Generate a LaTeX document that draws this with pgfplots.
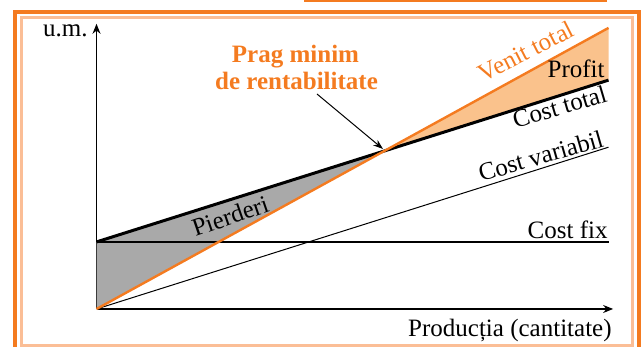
\documentclass[border=0pt]{standalone}
\usepackage{pgfplots}
\pgfplotsset{compat=1.18}
\usepackage{fontspec}
\setmainfont{Liberation Serif}
\usetikzlibrary{arrows.meta}
\definecolor{portocaliu}{HTML}{F47B20}
\definecolor{profitfill}{HTML}{FAC28C}
\definecolor{ramadeschisa}{HTML}{FBBE96}
\definecolor{gri}{HTML}{A9A9A9}

\begin{document}
\begin{tikzpicture}
\path[use as bounding box] (0,0) rectangle (321.5pt,173.5pt);
% rama (1 unitate = 1 px din imagine)
\begin{scope}[x=0.5pt,y=0.5pt]
  \draw[portocaliu, line width=2pt] (15,335) rectangle (639,-5);
  \draw[ramadeschisa, line width=1.5pt] (21,329) rectangle (632,1.5);
  \draw[portocaliu, line width=1.5pt] (305,360) -- (305,346) -- (605,346) -- (605,360);
\end{scope}

\begin{axis}[
    at={(48.25pt,19pt)}, anchor=south west,
    x=2.56pt, y=2.56pt,
    xmin=0, xmax=100.9,
    ymin=0, ymax=55.7,
    axis lines=left,
    axis line style={line width=0.6pt, -{Stealth[length=5pt,width=4pt]}},
    xtick=\empty, ytick=\empty,
    clip=false,
]
  % pierderi
  \addplot[fill=gri, draw=none] coordinates {(0,0) (0,13.1) (56.2,30.85)} -- cycle;
  % profit
  \addplot[fill=profitfill, draw=none] coordinates {(56.2,30.85) (100,54.9) (100,44.7)} -- cycle;
  % cost fix
  \addplot[black, line width=0.6pt] coordinates {(0,13.1) (100,13.1)};
  % cost variabil
  \addplot[black, line width=0.5pt] coordinates {(0,0) (100,31.6)};
  % cost total
  \addplot[black, line width=1.5pt] coordinates {(0,13.1) (100,44.7)};
  % venit total
  \addplot[portocaliu, line width=1.2pt] coordinates {(0,0) (100,54.9)};
\end{axis}

\begin{scope}[x=0.5pt,y=0.5pt, every node/.style={inner sep=0pt, font=\fontsize{12.5}{15}\selectfont}]
  \node[anchor=base east] at (88,310) {u.m.};
  \node[anchor=base east] at (612,10) {Producția (cantitate)};
  \node[anchor=base east] at (608,108) {Cost fix};
  \node[anchor=base east] at (605,269) {Profit};
  \node[anchor=base, rotate=27, text=portocaliu] at (530,288) {Venit total};
  \node[anchor=base, rotate=16.5] at (562,232) {Cost total};
  \node[anchor=base, rotate=16] at (543,183) {Cost variabil};
  \node[anchor=base, rotate=19] at (233,123) {Pierderi};
  \node[anchor=base, text=portocaliu, font=\fontsize{12.5}{15}\selectfont\bfseries] at (295.5,284) {Prag minim};
  \node[anchor=base, text=portocaliu, font=\fontsize{12.5}{15}\selectfont\bfseries] at (296.5,257) {de rentabilitate};
  \draw[line width=0.5pt, -{Stealth[length=5pt,width=3.5pt]}] (317,253) -- (383,198);
\end{scope}
\end{tikzpicture}
\end{document}
